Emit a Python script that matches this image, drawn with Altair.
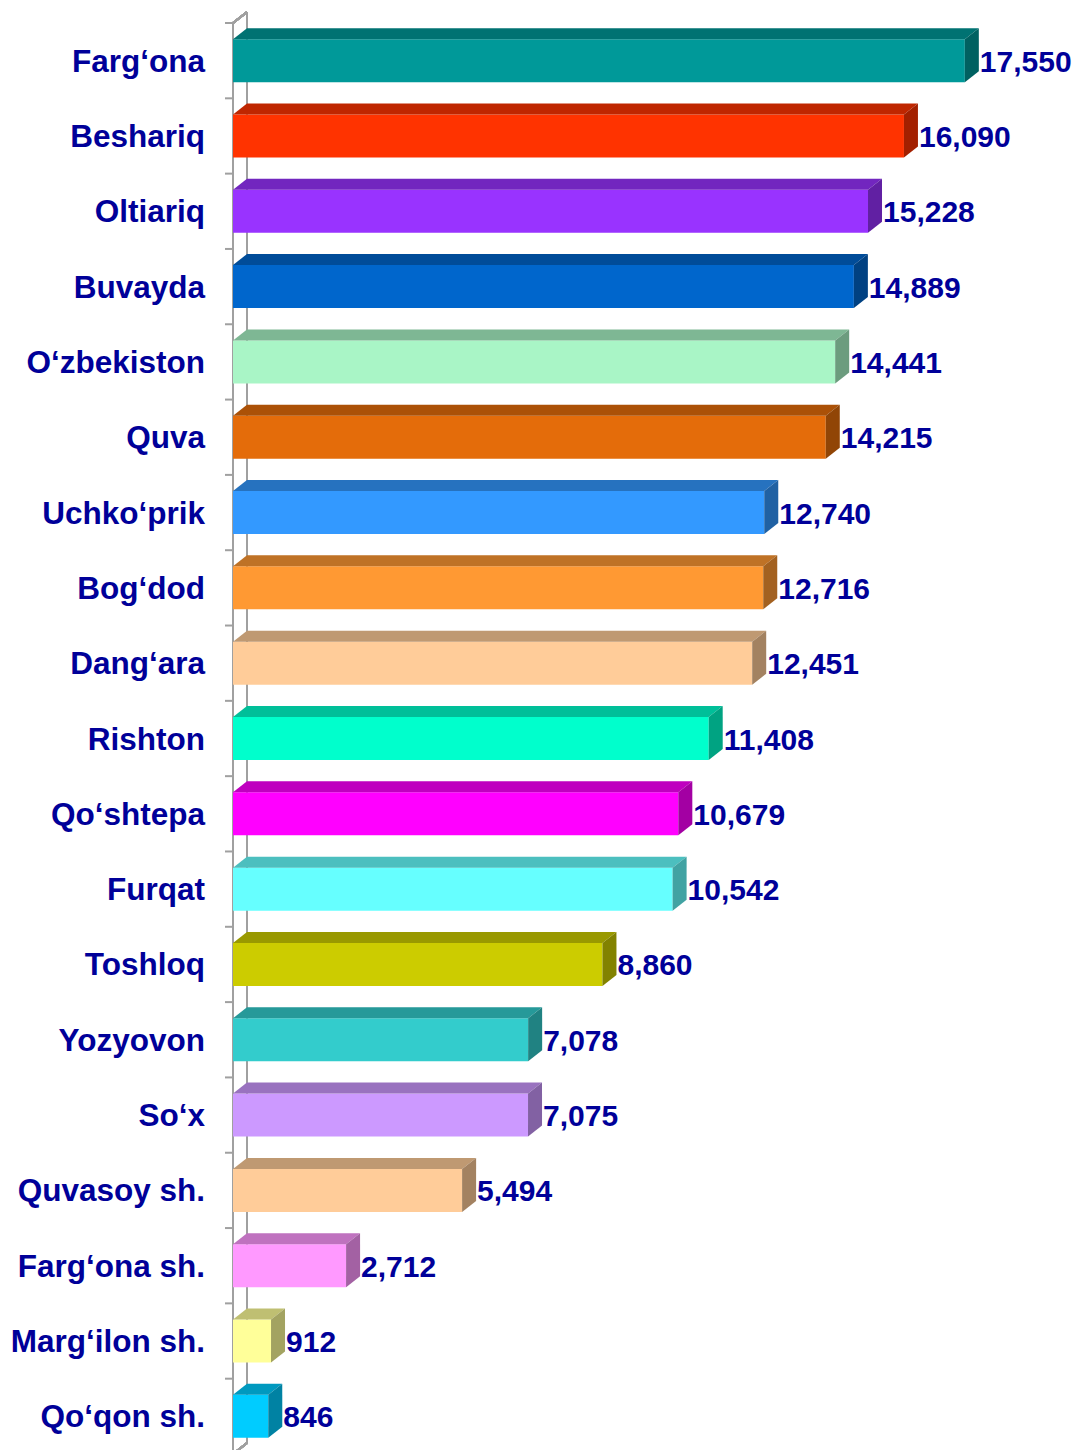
import altair as alt
import pandas as pd

categories = ["Farg‘ona", "Beshariq", "Oltiariq", "Buvayda", "O‘zbekiston", "Quva",
              "Uchko‘prik", "Bog‘dod", "Dang‘ara", "Rishton", "Qo‘shtepa", "Furqat",
              "Toshloq", "Yozyovon", "So‘x", "Quvasoy sh.", "Farg‘ona sh.",
              "Marg‘ilon sh.", "Qo‘qon sh."]
values = [17550, 16090, 15228, 14889, 14441, 14215, 12740, 12716, 12451, 11408,
          10679, 10542, 8860, 7078, 7075, 5494, 2712, 912, 846]
colors = ["#009999", "#FF3300", "#9933FF", "#0066CC", "#A9F5C6", "#E46C0A",
          "#3399FF", "#FF9933", "#FFCC99", "#00FFCC", "#FF00FF", "#66FFFF",
          "#CCCC00", "#33CCCC", "#CC99FF", "#FFCC99", "#FF99FF", "#FFFF99", "#00CCFF"]

# layout / style constants
W, H = 834, 1431
XMAX = 20000
N = len(categories)
DX, DY, FRONT_H = 14, 11, 43
TEXT_COLOR = "#000099"
AXIS_COLOR = "#A0A0A0"
FONT = "Liberation Sans"
FS_CAT = 31.5
FS_VAL = 30


def shade(hex_color, f):
    h = hex_color.lstrip("#")
    r, g, b = (int(h[i:i + 2], 16) for i in (0, 2, 4))
    return "#%02X%02X%02X" % (int(r * f), int(g * f), int(b * f))


kx = W / XMAX
ky = H / N
dxu = DX / kx
dyu = DY / ky
hf = FRONT_H / 2 / ky

front_rows, top_rows, side_rows = [], [], []
for i, (c, v, col) in enumerate(zip(categories, values, colors)):
    yc = i + 0.5
    y0, y1 = yc - hf, yc + hf
    front_rows.append(dict(cat=c, value=v, x0=0, yc=yc, y0=y0, y1=y1, fill=col))
    tcol = shade(col, 0.75)
    for x, ya, yb in [(0, y0, y0), (dxu, y0 - dyu, y0), (v, y0 - dyu, y0),
                      (v + dxu, y0 - dyu, y0 - dyu)]:
        top_rows.append(dict(cat=c, x=x, ya=ya, yb=yb, fill=tcol))
    scol = shade(col, 0.64)
    for x, ya, yb in [(v, y0, y1), (v + dxu, y0 - dyu, y1 - dyu)]:
        side_rows.append(dict(cat=c, x=x, ya=ya, yb=yb, fill=scol))

front = pd.DataFrame(front_rows)
top = pd.DataFrame(top_rows)
side = pd.DataFrame(side_rows)
ticks = pd.DataFrame({"b": list(range(N + 1))})

xs = alt.Scale(domain=[0, XMAX], nice=False, zero=True)
ys = alt.Scale(domain=[0, N], nice=False, reverse=True)

tick_layer = alt.Chart(ticks).mark_rule(color=AXIS_COLOR, strokeWidth=2).encode(
    y=alt.Y("b:Q", scale=ys, axis=None),
    x=alt.value(-8), x2=alt.value(0))

back_line = alt.Chart(ticks).mark_rule(color=AXIS_COLOR, strokeWidth=2).encode(
    x=alt.value(DX), y=alt.value(-DY), y2=alt.value(H - DY))
front_line = alt.Chart(ticks).mark_rule(color=AXIS_COLOR, strokeWidth=2).encode(
    x=alt.value(0), y=alt.value(0), y2=alt.value(H))
top_diag = alt.Chart(ticks).mark_rule(color=AXIS_COLOR, strokeWidth=2).encode(
    x=alt.value(0), x2=alt.value(DX), y=alt.value(0), y2=alt.value(-DY))
bot_diag = alt.Chart(ticks).mark_rule(color=AXIS_COLOR, strokeWidth=2).encode(
    x=alt.value(0), x2=alt.value(DX), y=alt.value(H), y2=alt.value(H - DY))

front_layer = alt.Chart(front).mark_rect().encode(
    x=alt.X("x0:Q", scale=xs, axis=None),
    x2="value:Q",
    y=alt.Y("y0:Q", scale=ys, axis=None),
    y2="y1:Q",
    fill=alt.Fill("fill:N", scale=None))

top_layer = alt.Chart(top).mark_area(orient="vertical").encode(
    x=alt.X("x:Q", scale=xs, axis=None),
    y=alt.Y("ya:Q", scale=ys, axis=None),
    y2="yb:Q",
    detail="cat:N",
    fill=alt.Fill("fill:N", scale=None))

side_layer = alt.Chart(side).mark_area(orient="vertical").encode(
    x=alt.X("x:Q", scale=xs, axis=None),
    y=alt.Y("ya:Q", scale=ys, axis=None),
    y2="yb:Q",
    detail="cat:N",
    fill=alt.Fill("fill:N", scale=None))

cat_labels = alt.Chart(front).mark_text(
    align="right", baseline="middle", font=FONT, fontSize=FS_CAT, fontWeight="bold",
    color=TEXT_COLOR, dy=2).encode(
    x=alt.value(-28),
    y=alt.Y("yc:Q", scale=ys, axis=None),
    text="cat:N")

val_labels = alt.Chart(front).mark_text(
    align="left", baseline="middle", font=FONT, fontSize=FS_VAL, fontWeight="bold",
    color=TEXT_COLOR, dx=DX + 1, dy=2).encode(
    x=alt.X("value:Q", scale=xs, axis=None),
    y=alt.Y("yc:Q", scale=ys, axis=None),
    text=alt.Text("value:Q", format=","))

chart = alt.layer(
    back_line, tick_layer, front_line, top_diag, bot_diag,
    front_layer, top_layer, side_layer, cat_labels, val_labels
).properties(
    width=W, height=H, autosize="none",
    padding={"left": 225, "top": 15, "right": 7, "bottom": 0}
).configure(background="white").configure_view(stroke=None)

chart.save("out.html", embed_options={"renderer": "svg", "actions": False})
